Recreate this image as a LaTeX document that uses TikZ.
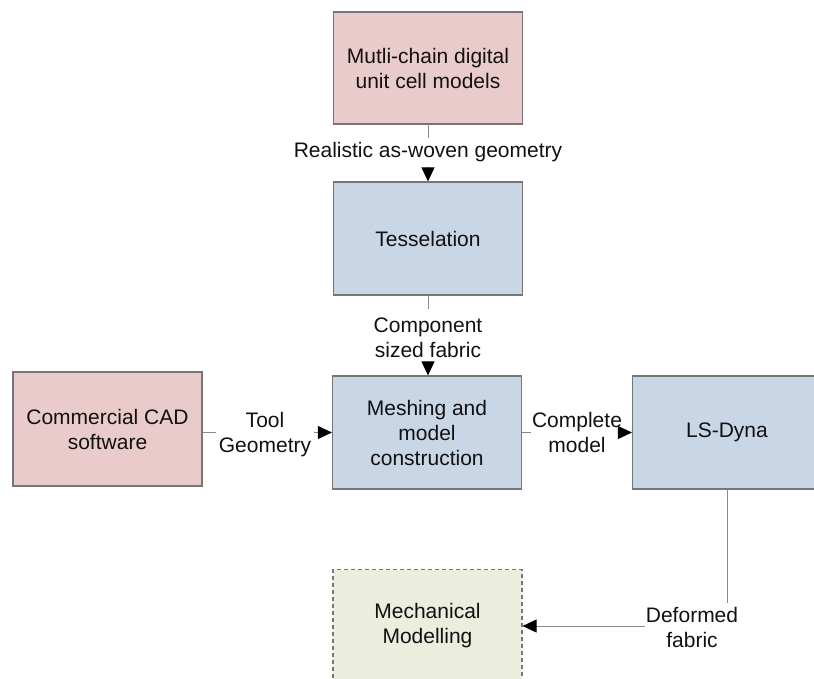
\documentclass[tikz,border=0pt]{standalone}
\usepackage{fontspec}
\setmainfont{Liberation Sans}
\usetikzlibrary{arrows.meta}
\definecolor{pinkfill}{HTML}{EACBCB}
\definecolor{bluefill}{HTML}{C9D6E6}
\definecolor{greenfill}{HTML}{EBEEDD}
\definecolor{bordergray}{HTML}{767676}
\definecolor{linegray}{HTML}{8A8A8A}
\definecolor{txt}{HTML}{111111}
\tikzset{
  txtfont/.style={font=\fontsize{21}{25}\selectfont, text=txt},
  box/.style={draw=bordergray, line width=1.2pt, minimum width=189pt, minimum height=113pt,
    inner sep=0pt, align=center, txtfont},
  pinkbox/.style={box, fill=pinkfill},
  bluebox/.style={box, fill=bluefill},
  greenbox/.style={box, fill=greenfill, dash pattern=on 4pt off 3pt},
  lab/.style={align=center, txtfont},
  conn/.style={draw=linegray, line width=1pt},
  arr/.style={conn, -{Triangle[length=14pt,width=13pt,black]}},
}
\begin{document}
\begin{tikzpicture}[x=1pt,y=-1pt]
\useasboundingbox (0,0) rectangle (814,679);
% boxes
\node[pinkbox, minimum height=112pt] (A) at (428,68) {Mutli-chain digital\\unit cell models};
\node[bluebox] (T) at (428,238.5) {Tesselation};
\node[bluebox] (M) at (427,432.5) {Meshing and\\model\\construction};
\node[pinkbox, minimum height=114pt] (C) at (107.5,429) {Commercial CAD\\software};
\node[bluebox] (L) at (727,432.5) {LS-Dyna};
\node[greenbox] (G) at (427.5,626) {Mechanical\\Modelling};
% labels
\node[lab, inner xsep=2pt, inner ysep=5pt] (r) at (428,152.5) {Realistic as-woven geometry};
\node[lab, inner xsep=2pt, inner ysep=8pt] (cf) at (428,337.5) {Component\\sized fabric};
\node[lab, inner xsep=3pt, inner ysep=2pt] (tg) at (265,435) {Tool\\Geometry};
\node[lab, inner xsep=1pt, inner ysep=2pt] (cm) at (577,432) {Complete\\model};
\node[lab, inner xsep=1pt, inner ysep=4pt] (df) at (692,627) {Deformed\\fabric};
% connectors
\draw[conn] (A.south) -- (A.south |- r.north);
\draw[arr] (A.south |- r.south) -- (A.south |- T.north);
\draw[conn] (T.south) -- (T.south |- cf.north);
\draw[arr] (T.south |- cf.south) -- (T.south |- M.north);
\draw[conn] (C.east |- M.west) -- (tg.west |- M.west);
\draw[arr] (tg.east |- M.west) -- (M.west);
\draw[conn] (M.east) -- (cm.west |- M.east);
\draw[arr] (cm.east |- M.east) -- (L.west);
\draw[conn] (L.south) -- (L.south |- df.north);
\draw[arr] (df.west |- G.east) -- (G.east);
\end{tikzpicture}
\end{document}
